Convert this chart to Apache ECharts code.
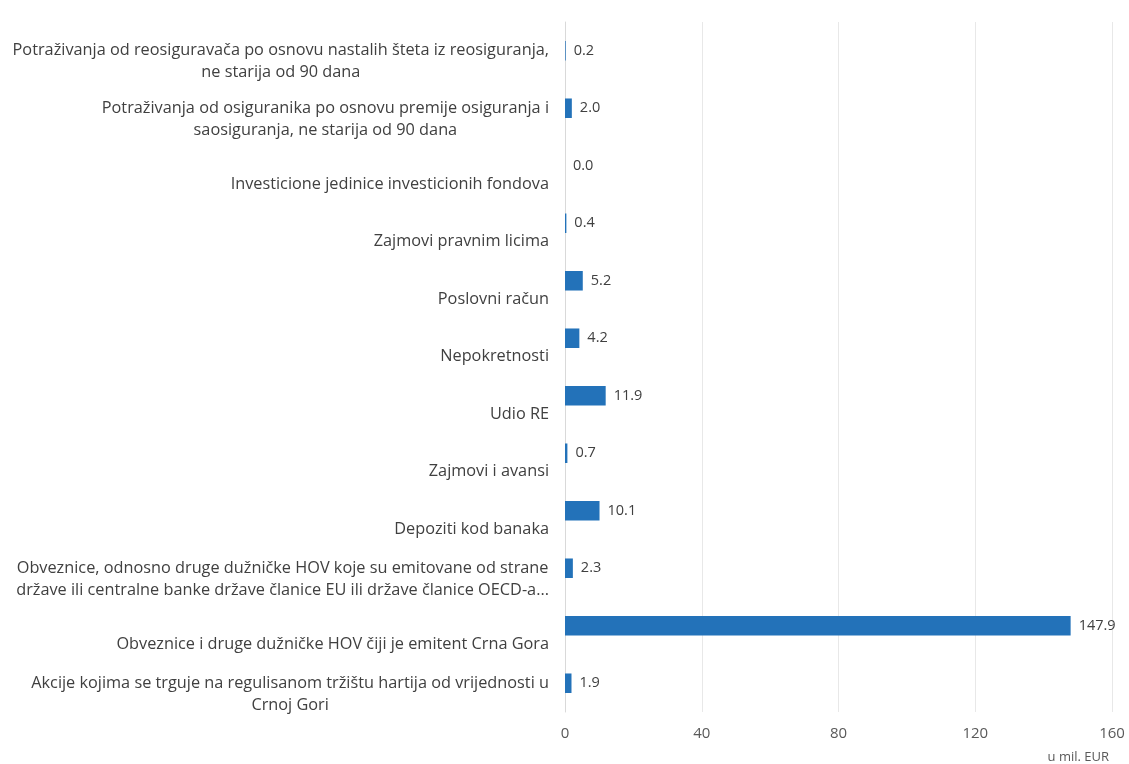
<!DOCTYPE html>
<html>
<head>
<meta charset="utf-8">
<script src="https://cdn.jsdelivr.net/npm/echarts@6/dist/echarts.min.js"></script>
<style>
html,body{margin:0;padding:0;background:#fff;}
#c{width:1129px;height:764px;}
</style>
</head>
<body>
<div id="c"></div>
<script>
const categories = [
  "Potraživanja od reosiguravača po osnovu nastalih šteta iz reosiguranja,\nne starija od 90 dana",
  "Potraživanja od osiguranika po osnovu premije osiguranja i\nsaosiguranja, ne starija od 90 dana",
  "Investicione jedinice investicionih fondova",
  "Zajmovi pravnim licima",
  "Poslovni račun",
  "Nepokretnosti",
  "Udio RE",
  "Zajmovi i avansi",
  "Depoziti kod banaka",
  "Obveznice, odnosno druge dužničke HOV koje su emitovane od strane\ndržave ili centralne banke države članice EU ili države članice OECD-a...",
  "Obveznice i druge dužničke HOV čiji je emitent Crna Gora",
  "Akcije kojima se trguje na regulisanom tržištu hartija od vrijednosti u\nCrnoj Gori"
];
const values = [0.2, 2.0, 0.0, 0.4, 5.2, 4.2, 11.9, 0.7, 10.1, 2.3, 147.9, 1.9];
const xTicks = [0, 40, 80, 120, 160];
const unitLabel = "u mil. EUR";

const FONT = "'Open Sans', sans-serif";
const LH = 22;

const yData = categories.map(c => {
  const lines = c.split("\n").length;
  return {
    value: c,
    textStyle: { padding: [lines > 1 ? LH : 37, 0, 0, 0] }
  };
});

const chart = echarts.init(document.getElementById('c'), null, {renderer: 'canvas'});
chart.setOption({
  animation: false,
  backgroundColor: '#ffffff',
  grid: { left: 565, right: 17, top: 22, bottom: 52, containLabel: false },
  xAxis: {
    type: 'value',
    min: xTicks[0],
    max: xTicks[xTicks.length - 1],
    interval: xTicks[1] - xTicks[0],
    axisLine: { show: false },
    axisTick: { show: false },
    splitLine: { show: true, lineStyle: { color: '#e8e8e8', width: 1 } },
    axisLabel: { color: '#595959', fontSize: 15, fontFamily: FONT, margin: 14 }
  },
  yAxis: {
    type: 'category',
    inverse: true,
    data: yData,
    axisLine: { show: true, lineStyle: { color: '#d9d9d9' } },
    axisTick: { show: false },
    axisLabel: {
      margin: 16,
      interval: 0,
      align: 'right',
      formatter: v => v.split("\n").map(l => '{c|' + l + '}').join("\n"),
      rich: {
        c: { align: 'center', fontSize: 16.3, fontFamily: FONT, color: '#404040', lineHeight: LH }
      }
    }
  },
  series: [{
    type: 'bar',
    data: values,
    barWidth: '34%',
    itemStyle: { color: '#2372b9' },
    label: {
      show: true,
      position: 'right',
      distance: 8,
      color: '#404040',
      fontSize: 14.5,
      fontFamily: FONT,
      formatter: p => p.value.toFixed(1)
    }
  }],
  graphic: [{
    type: 'text',
    right: 20,
    bottom: 0,
    style: { text: unitLabel, fill: '#595959', font: "13px " + FONT }
  }]
});
</script>
</body>
</html>
